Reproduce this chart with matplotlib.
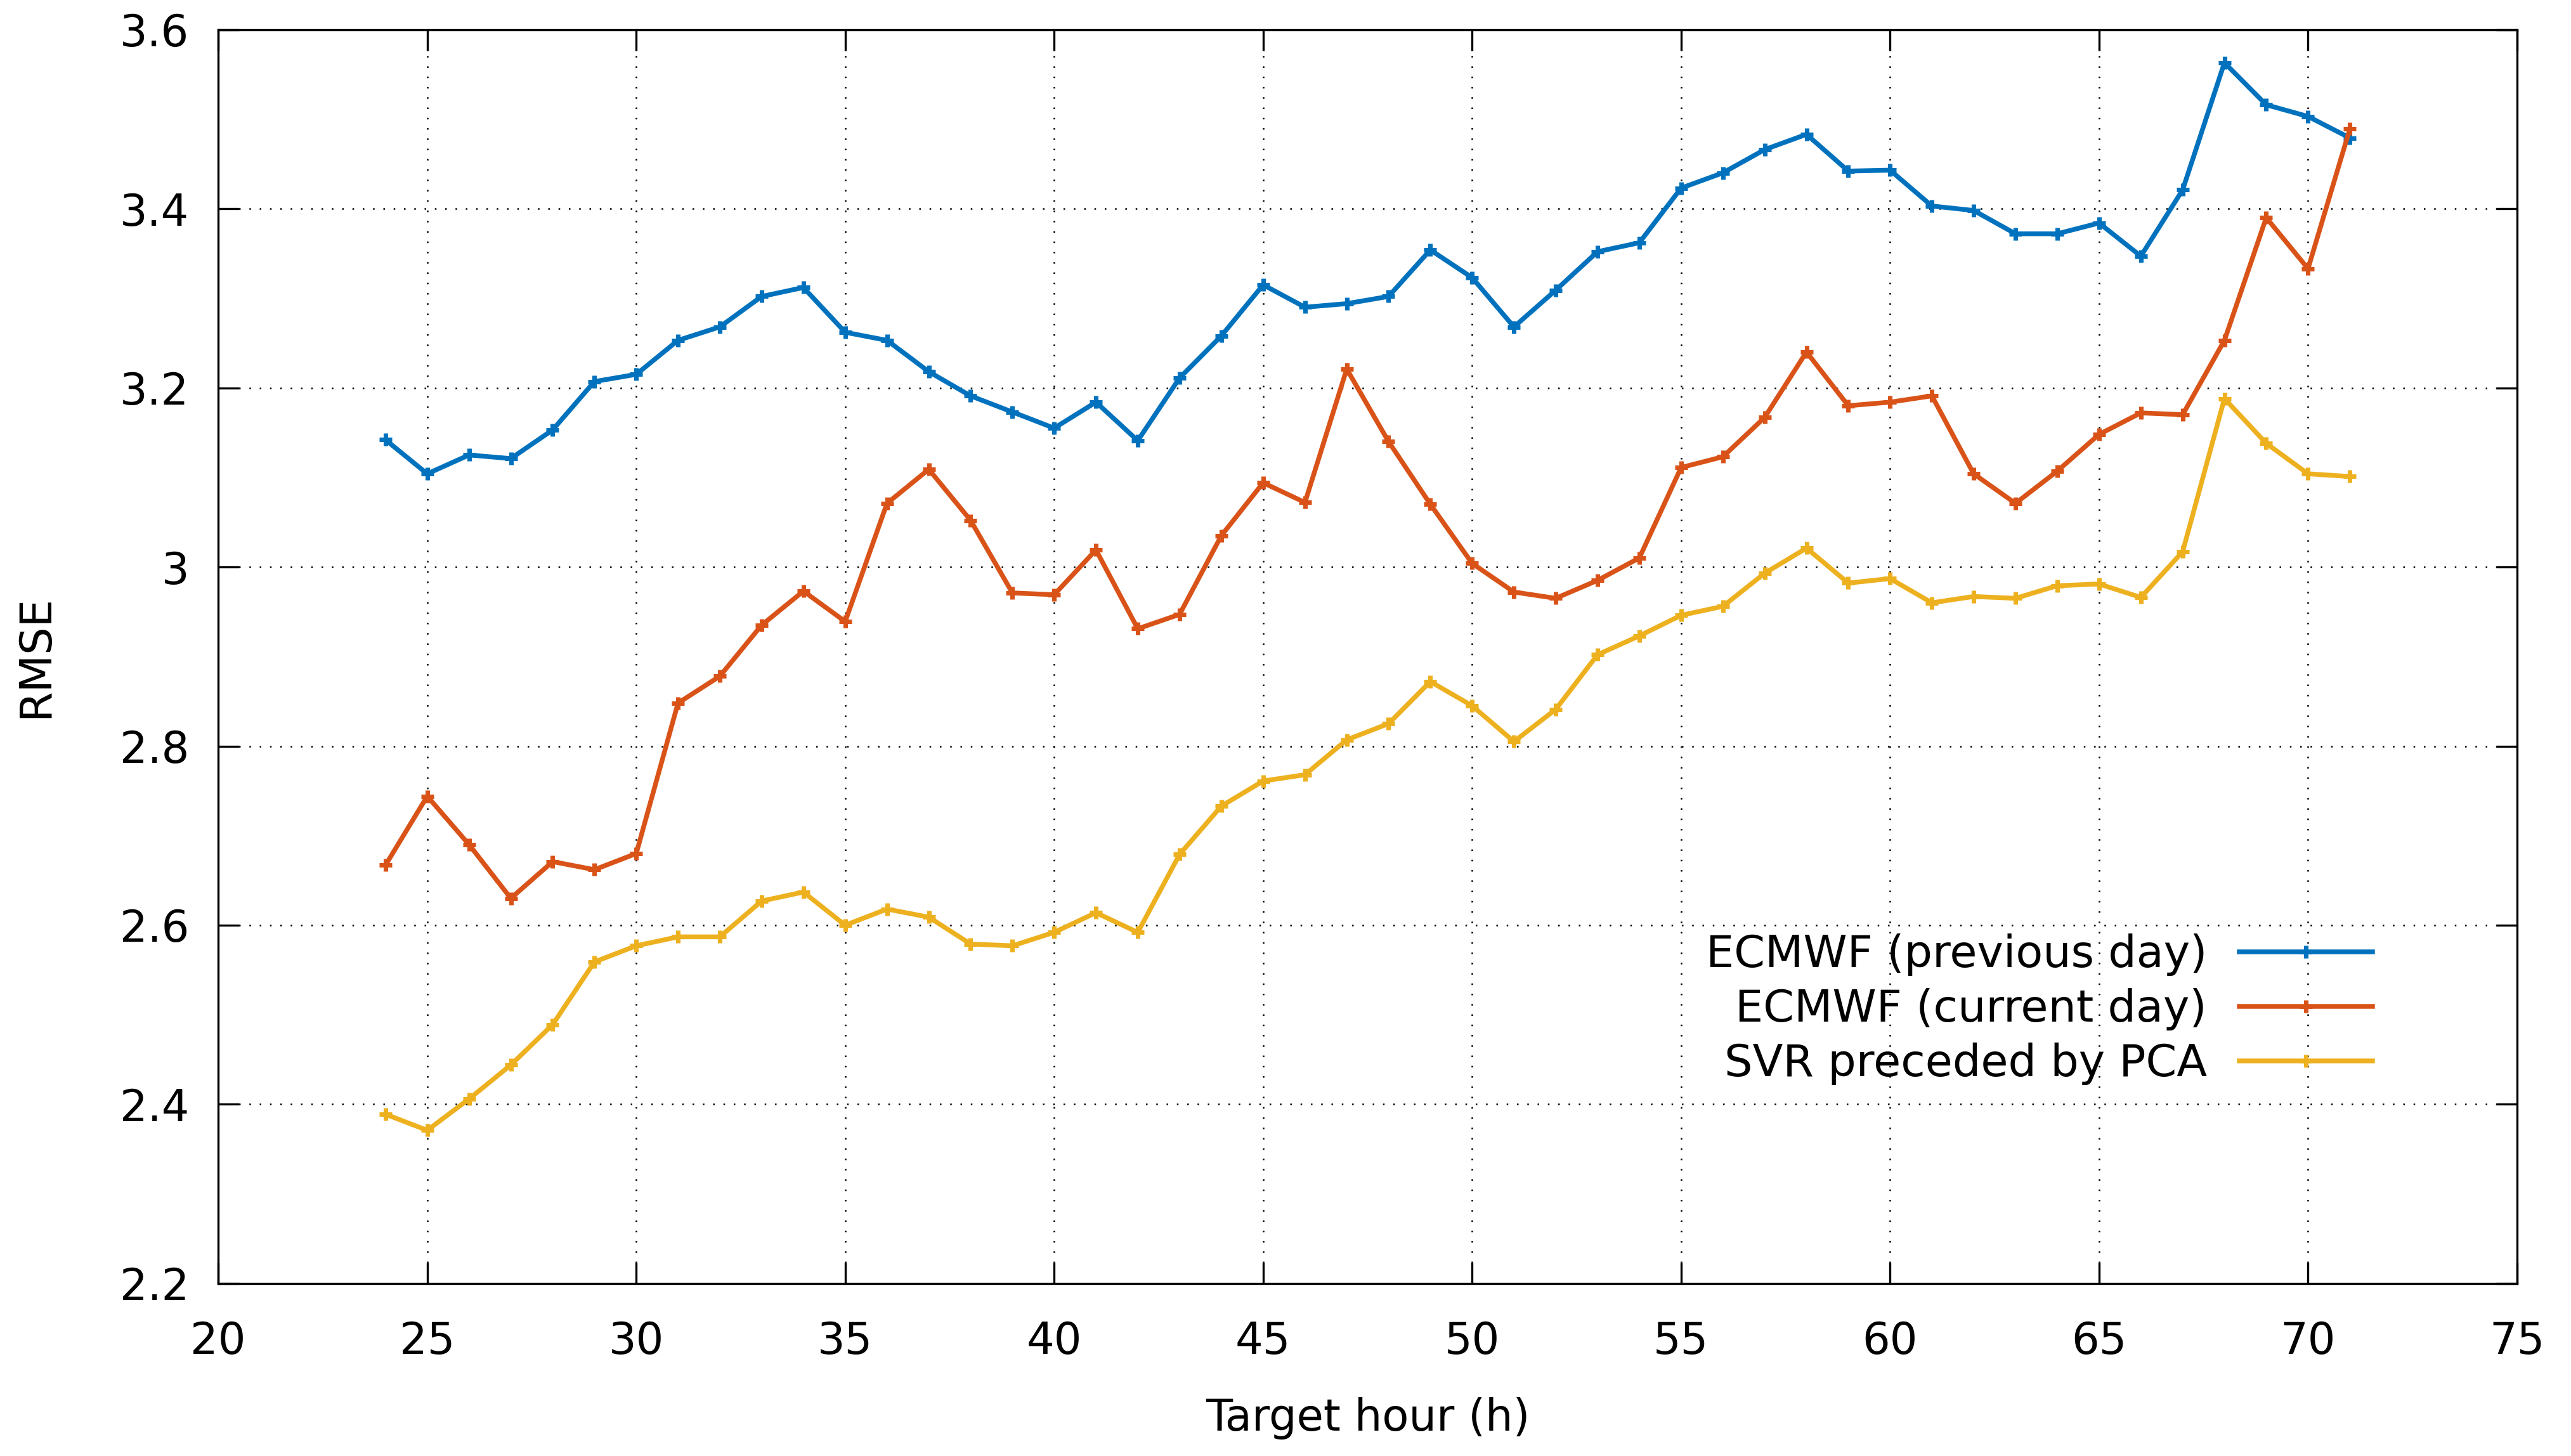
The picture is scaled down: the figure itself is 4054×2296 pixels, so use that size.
import matplotlib
matplotlib.use("Agg")
import matplotlib.pyplot as plt
from matplotlib.ticker import MultipleLocator, FuncFormatter

hours = list(range(24, 72))

ecmwf_prev = [3.142, 3.104, 3.125, 3.121, 3.153, 3.207, 3.215, 3.253, 3.268, 3.302,
              3.312, 3.262, 3.253, 3.218, 3.191, 3.173, 3.155, 3.184, 3.141, 3.211,
              3.258, 3.315, 3.290, 3.294, 3.302, 3.354, 3.323, 3.268, 3.309, 3.352,
              3.362, 3.423, 3.440, 3.466, 3.483, 3.442, 3.443, 3.403, 3.398, 3.372,
              3.372, 3.384, 3.347, 3.421, 3.563, 3.516, 3.503, 3.479]

ecmwf_curr = [2.667, 2.744, 2.690, 2.630, 2.671, 2.662, 2.680, 2.848, 2.878, 2.935,
              2.973, 2.939, 3.071, 3.109, 3.052, 2.971, 2.969, 3.019, 2.931, 2.947,
              3.035, 3.094, 3.072, 3.221, 3.140, 3.070, 3.004, 2.972, 2.965, 2.985,
              3.010, 3.111, 3.123, 3.167, 3.240, 3.180, 3.184, 3.191, 3.104, 3.071,
              3.107, 3.148, 3.172, 3.170, 3.253, 3.390, 3.333, 3.489]

svr_pca = [2.389, 2.371, 2.406, 2.444, 2.489, 2.559, 2.577, 2.587, 2.587, 2.627,
           2.637, 2.600, 2.618, 2.609, 2.579, 2.577, 2.592, 2.614, 2.592, 2.679,
           2.733, 2.761, 2.768, 2.807, 2.825, 2.872, 2.845, 2.805, 2.841, 2.902,
           2.923, 2.946, 2.956, 2.993, 3.021, 2.982, 2.987, 2.960, 2.967, 2.965,
           2.979, 2.981, 2.966, 3.017, 3.188, 3.138, 3.104, 3.101]

labels = ["ECMWF (previous day)", "ECMWF (current day)", "SVR preceded by PCA"]
colors = ["#0072bd", "#d95319", "#edb120"]

plt.rcParams["font.family"] = ["DejaVu Sans"]
plt.rcParams["font.size"] = 16.5

fig = plt.figure(figsize=(4054 / 300, 2296 / 300), dpi=300)
ax = fig.add_axes([0.0849, 0.1185, 0.979 - 0.0849, 0.9797 - 0.1185])

for ys, lab, col in zip([ecmwf_prev, ecmwf_curr, svr_pca], labels, colors):
    ax.plot(hours, ys, color=col, lw=1.8, marker="+", ms=5, mew=1.7, label=lab)

ax.set_xlim(20, 75)
ax.set_ylim(2.2, 3.6)
ax.xaxis.set_major_locator(MultipleLocator(5))
ax.yaxis.set_major_locator(MultipleLocator(0.2))
ax.yaxis.set_major_formatter(FuncFormatter(lambda v, p: "%g" % round(v, 2)))
ax.tick_params(direction="in", length=8, width=0.8, top=True, right=True)
ax.tick_params(axis="x", pad=14)
ax.tick_params(axis="y", pad=11)
ax.grid(True, color="black", linestyle=(0, (1, 5.5)), linewidth=0.6)
for s in ax.spines.values():
    s.set_linewidth(0.8)

ax.set_xlabel("Target hour (h)", labelpad=13)
ax.set_ylabel("RMSE", labelpad=24)

ax.legend(loc="upper right", bbox_to_anchor=(0.937, 0.279), frameon=False,
          markerfirst=False, handlelength=3.0, handletextpad=0.72,
          labelspacing=0.27, borderpad=0, borderaxespad=0, fontsize=16.8)

fig.savefig("out.png", dpi=300)
